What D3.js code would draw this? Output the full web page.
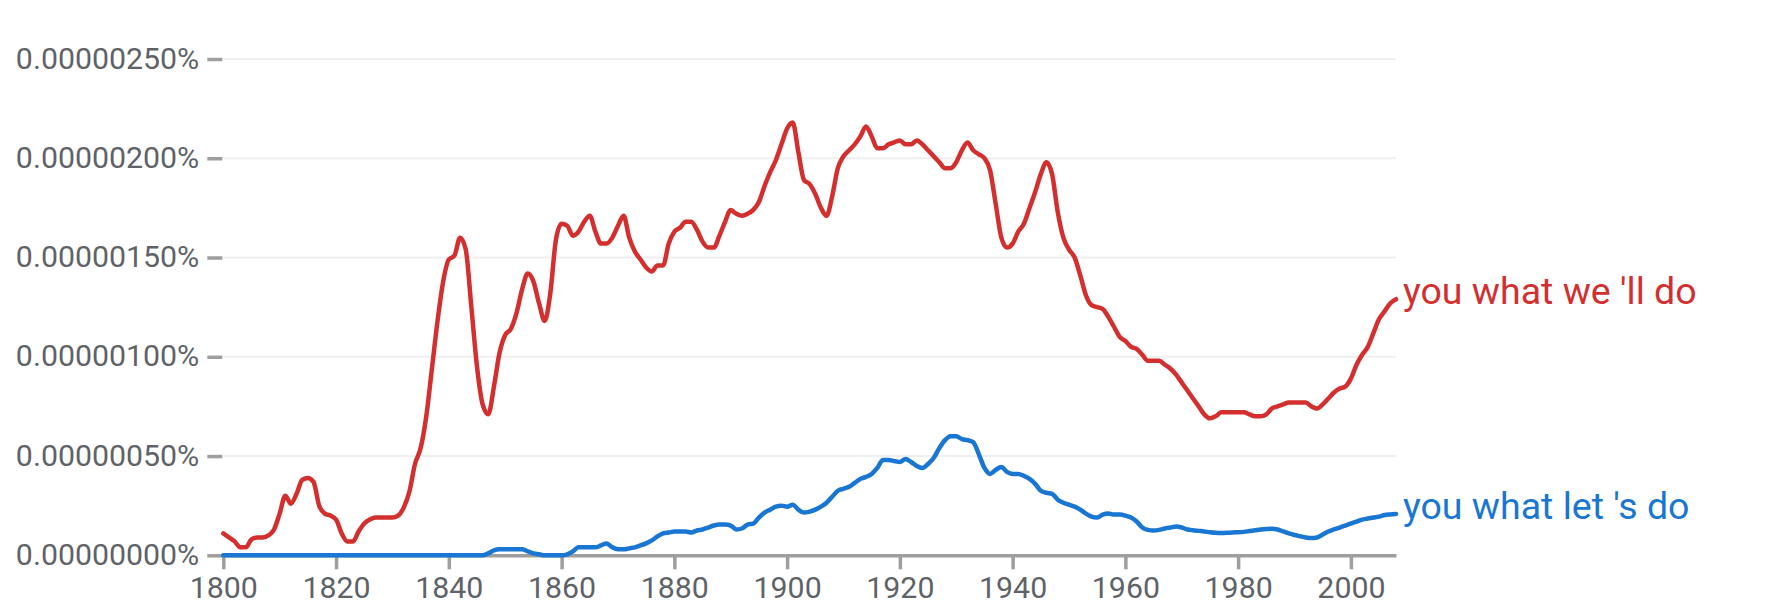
<!DOCTYPE html>
<html>
<head>
<meta charset="utf-8">
<script src="https://cdn.jsdelivr.net/npm/d3@7"></script>
<style>
  body { margin: 0; background: #fff; }
  text { font-family: Roboto, "Noto Sans", sans-serif; }
</style>
</head>
<body>
<script>
// values are in units of 0.00000001 %
const years = d3.range(1800, 2009);

const weWillDo = [
  11, 9, 7, 4, 4, 8, 9, 9, 10, 13,
  21, 30, 26, 31, 38, 39, 37, 25, 21, 20,
  18, 11, 7, 7, 12, 16, 18, 19, 19, 19,
  19, 20, 24, 32, 46, 54, 70, 94, 118, 138,
  149, 151, 160, 154, 125, 95, 76, 71, 85, 102,
  111, 114, 122, 134, 142, 138, 127, 118, 132, 159,
  167, 166, 161, 163, 168, 171, 163, 157, 157, 160,
  166, 171, 160, 153, 149, 145, 143, 146, 146, 157,
  163, 165, 168, 168, 164, 158, 155, 155, 161, 168,
  174, 172, 171, 172, 174, 178, 186, 193, 199, 207,
  215, 218, 203, 189, 187, 182, 175, 171, 181, 195,
  201, 204, 207, 211, 216, 211, 205, 205, 207, 208,
  209, 207, 207, 209, 207, 204, 201, 198, 195, 195,
  198, 204, 208, 204, 202, 200, 194, 177, 160, 155,
  157, 163, 167, 175, 183, 192, 198, 192, 173, 160,
  154, 150, 141, 131, 126, 125, 124, 120, 115, 110,
  108, 105, 104, 101, 98, 98, 98, 96, 94, 91,
  87, 83, 79, 75, 71, 69, 70, 72, 72, 72,
  72, 72, 71, 70, 70, 71, 74, 75, 76, 77,
  77, 77, 77, 75, 74, 76, 79, 82, 84, 85,
  89, 96, 101, 105, 112, 119, 123, 127, 129,
];

const letUsDo = [
  0, 0, 0, 0, 0, 0, 0, 0, 0, 0,
  0, 0, 0, 0, 0, 0, 0, 0, 0, 0,
  0, 0, 0, 0, 0, 0, 0, 0, 0, 0,
  0, 0, 0, 0, 0, 0, 0, 0, 0, 0,
  0, 0, 0, 0, 0, 0, 0, 1, 2.5, 3,
  3, 3, 3, 3, 2, 1, 0.5, 0, 0, 0,
  0, 0.5, 2, 4, 4, 4, 4, 5, 6, 4,
  3, 3, 3.5, 4, 5, 6, 7.5, 9.5, 11, 11.5,
  12, 12, 12, 11.5, 12.5, 13, 14, 15, 15.5, 15.5,
  15, 13, 13.5, 15.5, 16, 19, 21.5, 23, 24.5, 25,
  24.5, 25.5, 23, 21.5, 22, 23, 24.5, 26.5, 29.5, 32.5,
  33.5, 34.5, 36.5, 38.5, 39.5, 41, 44, 48, 48, 47.5,
  47, 48.5, 47, 45, 44, 46, 49, 54, 58, 60,
  60, 58.5, 58, 57, 51, 44, 41, 43, 44.5, 42,
  41, 41, 40, 38.5, 36, 32.5, 31.5, 31, 28, 26.5,
  25.5, 24.5, 23, 21, 19.5, 19, 20.5, 21, 20.5, 20.5,
  20, 19, 17, 14, 12.8, 12.5, 12.8, 13.5, 14, 14.5,
  14, 13, 12.6, 12.3, 12, 11.6, 11.3, 11.2, 11.3, 11.5,
  11.6, 11.8, 12.2, 12.6, 13, 13.3, 13.4, 13, 12, 11,
  10.2, 9.6, 9, 8.7, 9, 10.5, 12, 13, 14, 15,
  16, 17, 18, 18.5, 19, 19.5, 20.3, 20.6, 20.8,
];

const seriesNames = ["you what we 'll do", "you what let 's do"];
const seriesColors = ["#d32f2f", "#1976d2"];
const yTicks = [0, 50, 100, 150, 200, 250];
const xTicks = [1800, 1820, 1840, 1860, 1880, 1900, 1920, 1940, 1960, 1980, 2000];

const width = 1777;
const height = 610;

const x = d3.scaleLinear()
    .domain([1800, 2008])
    .range([223.3, 1396]);

const y = d3.scaleLinear()
    .domain([0, 250])
    .range([555.3, 59]);

const svg = d3.select("body")
    .append("svg")
    .attr("width", width)
    .attr("height", height)
    .attr("viewBox", [0, 0, width, height].join(" "));

// grid lines
svg.append("g")
    .selectAll("line")
    .data(yTicks.filter((d) => d > 0))
    .enter()
    .append("line")
    .attr("x1", x(1800) - 1)
    .attr("x2", x(2008))
    .attr("y1", (d) => y(d))
    .attr("y2", (d) => y(d))
    .attr("stroke", "#efefef")
    .attr("stroke-width", 2);

const yAxis = svg.append("g")
    .attr("transform", `translate(${x(1800) - 1},0)`)
    .call(d3.axisLeft(y)
        .tickValues(yTicks)
        .tickSize(15)
        .tickPadding(8)
        .tickFormat((d) => `${(d * 1e-8).toFixed(8)}%`));

yAxis.select(".domain").remove();
yAxis.selectAll(".tick line")
    .attr("stroke", "#9e9e9e")
    .attr("stroke-width", 3.5);
yAxis.selectAll(".tick text")
    .attr("fill", "#5f6368")
    .attr("font-size", 30.3)
    .attr("dy", "0.3em");

const xAxis = svg.append("g")
    .attr("transform", `translate(0,${y(0)})`)
    .call(d3.axisBottom(x)
        .tickValues(xTicks)
        .tickSize(14)
        .tickSizeOuter(0)
        .tickPadding(7)
        .tickFormat(d3.format("d")));

xAxis.select(".domain")
    .attr("stroke", "#9e9e9e")
    .attr("stroke-width", 3.5);
xAxis.selectAll(".tick line")
    .attr("stroke", "#9e9e9e")
    .attr("stroke-width", 3.5);
xAxis.selectAll(".tick text")
    .attr("fill", "#5f6368")
    .attr("font-size", 30.3);

const series = [weWillDo, letUsDo];

const line = d3.line()
    .x((d, i) => x(years[i]))
    .y((d) => y(d))
    .curve(d3.curveMonotoneX);

svg.append("g")
    .selectAll("path")
    .data([letUsDo, weWillDo])
    .enter()
    .append("path")
    .attr("d", line)
    .attr("fill", "none")
    .attr("stroke", (d) => seriesColors[series.indexOf(d)])
    .attr("stroke-width", 4.5)
    .attr("stroke-linejoin", "round")
    .attr("stroke-linecap", "round");

svg.append("g")
    .selectAll("text")
    .data(series)
    .enter()
    .append("text")
    .attr("x", x(2008) + 7)
    .attr("y", (d) => y(d[d.length - 1]) + 4.5)
    .attr("fill", (d, i) => seriesColors[i])
    .attr("font-size", 37.5)
    .text((d, i) => seriesNames[i]);
</script>
</body>
</html>
